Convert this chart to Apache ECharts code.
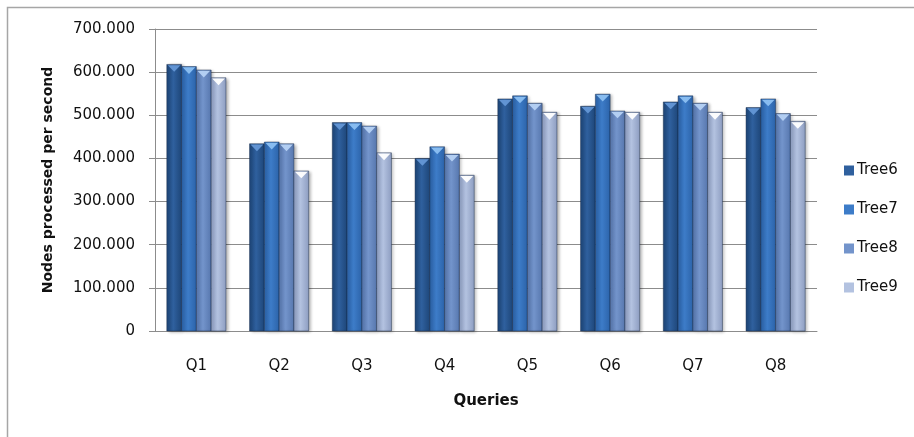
<!DOCTYPE html>
<html>
<head>
<meta charset="utf-8">
<script src="https://cdn.jsdelivr.net/npm/echarts@6/dist/echarts.min.js"></script>
<style>
  html, body { margin: 0; padding: 0; background: #fff; }
  #chart { width: 914px; height: 437px; }
</style>
</head>
<body>
<div id="chart"></div>
<script>
// 查询类别
const queries = ['Q1', 'Q2', 'Q3', 'Q4', 'Q5', 'Q6', 'Q7', 'Q8']
const treeNames = ['Tree6', 'Tree7', 'Tree8', 'Tree9']
// 每个树的数值（单位：千）
const tree6 = [618, 434, 483, 400, 538, 521, 531, 518]
const tree7 = [613, 438, 483, 427, 545, 549, 545, 538]
const tree8 = [605, 434, 475, 410, 528, 510, 528, 504]
const tree9 = [587, 371, 413, 361, 507, 507, 507, 486]
const yTicks = [0, 100, 200, 300, 400, 500, 600, 700]

// 颜色：[边缘, 中心, 顶部三角]
const shades = [
  ['#1d4577', '#2f609e', '#6497d6'],
  ['#2b62a8', '#3d7cc8', '#8cc0f2'],
  ['#5676ad', '#7394cb', '#b6d2f4'],
  ['#8c9cc0', '#b3c2e0', '#ffffff']
]
const allData = [tree6, tree7, tree8, tree9]

const chartDom = document.getElementById('chart')
const chart = echarts.init(chartDom, null, { renderer: 'canvas' })

function makeRender(idx) {
  return function (params, api) {
    const cat = api.value(0)
    const top = api.coord([cat, api.value(1)])
    const base = api.coord([cat, 0])
    const bandW = api.size([1, 0])[0]
    const groupW = bandW * 0.715
    const barW = groupW / 4
    const left = top[0] - groupW / 2 + idx * barW
    const h = base[1] - top[1]
    const c = shades[idx]
    const grad = new echarts.graphic.LinearGradient(0, 0, 1, 0, [
      { offset: 0, color: c[0] },
      { offset: 0.45, color: c[1] },
      { offset: 1, color: c[0] }
    ])
    return {
      type: 'group',
      children: [
        {
          type: 'rect',
          shape: { x: left, y: top[1], width: barW, height: h },
          style: { fill: grad, stroke: 'rgba(20,40,70,0.55)', lineWidth: 0.8,
            shadowBlur: 3, shadowOffsetX: 2, shadowOffsetY: 1, shadowColor: 'rgba(0,0,0,0.3)' }
        },
        {
          type: 'polygon',
          shape: { points: [[left + 1, top[1] + 0.8], [left + barW - 1, top[1] + 0.8], [left + barW / 2, top[1] + barW * 0.5]] },
          style: { fill: c[2], opacity: 0.95 }
        }
      ]
    }
  }
}

const series = treeNames.map((name, i) => ({
  name: name,
  type: 'custom',
  renderItem: makeRender(i),
  itemStyle: { color: shades[i][1] },
  encode: { x: 0, y: 1 },
  data: allData[i].map((v, j) => [j, v])
}))

const option = {
  animation: false,
  textStyle: { fontFamily: 'DejaVu Sans' },
  graphic: [
    {
      type: 'rect',
      shape: { x: 7.5, y: 7.5, width: 1000, height: 1000 },
      style: { fill: 'none', stroke: '#a6a6a6', lineWidth: 1.5 },
      silent: true
    }
  ],
  grid: { left: 155, right: 97, top: 29, bottom: 106 },
  legend: {
    orient: 'vertical',
    left: 839,
    top: 158,
    icon: 'rect',
    itemWidth: 10,
    itemHeight: 10,
    itemGap: 24,
    data: treeNames,
    textStyle: { fontSize: 15, color: '#111', lineHeight: 15, padding: [0, 0, 0, -2] }
  },
  xAxis: {
    type: 'category',
    data: queries,
    name: 'Queries',
    nameLocation: 'middle',
    nameGap: 63,
    nameTextStyle: { fontSize: 15, fontWeight: 'bold', color: '#111' },
    axisLine: { lineStyle: { color: '#8c8c8c' } },
    axisTick: { length: 6, lineStyle: { color: '#8c8c8c' } },
    axisLabel: { fontSize: 15, color: '#111', margin: 28 }
  },
  yAxis: {
    type: 'value',
    min: 0,
    max: 700,
    interval: 100,
    name: 'Nodes processed per second',
    nameLocation: 'middle',
    nameGap: 100,
    nameTextStyle: { fontSize: 14, fontWeight: 'bold', color: '#111' },
    axisLine: { show: true, lineStyle: { color: '#8c8c8c' } },
    axisTick: { show: true, length: 6, lineStyle: { color: '#8c8c8c' } },
    axisLabel: {
      fontSize: 15,
      color: '#111',
      margin: 20,
      formatter: (v) => yTicks.indexOf(v) > 0 ? v + '.000' : String(v)
    },
    splitLine: { lineStyle: { color: '#8c8c8c' } }
  },
  series: series
}
chart.setOption(option)
</script>
</body>
</html>
